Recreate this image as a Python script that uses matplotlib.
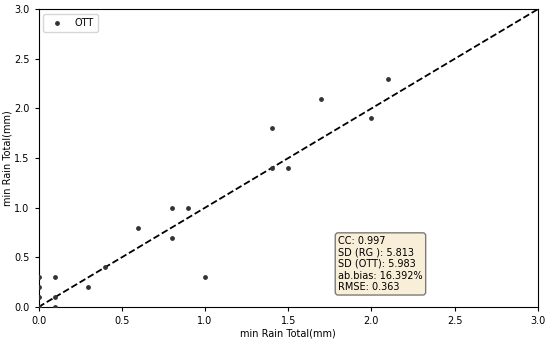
import matplotlib
matplotlib.use("Agg")
import matplotlib.pyplot as plt
import numpy as np

# rain gauge (x) vs OTT (y), 1-min totals
rg = [0.0, 0.0, 0.0, 0.0, 0.1, 0.1, 0.1, 0.3, 0.4, 0.6, 0.8, 0.8, 0.9, 1.0,
      1.4, 1.4, 1.5, 1.7, 2.0, 2.1]
ott = [0.3, 0.2, 0.1, 0.0, 0.3, 0.1, 0.0, 0.2, 0.4, 0.8, 1.0, 0.7, 1.0, 0.3,
       1.8, 1.4, 1.4, 2.1, 1.9, 2.3]

stats = "CC: 0.997\nSD (RG ): 5.813\nSD (OTT): 5.983\nab.bias: 16.392%\nRMSE: 0.363"

fig, ax = plt.subplots(figsize=(5.5, 3.4), dpi=100)
fig.subplots_adjust(left=0.07, right=0.978, top=0.973, bottom=0.097)

ax.scatter(rg, ott, s=6, color="#333333", label="OTT", zorder=3)
ax.plot([0, 3], [0, 3], "k--", lw=1.3)

ax.set_xlim(0, 3)
ax.set_ylim(0, 3)
ax.set_xlabel("min Rain Total(mm)", fontsize=7, labelpad=2)
ax.set_ylabel("min Rain Total(mm)", fontsize=7, labelpad=1)
ax.tick_params(labelsize=7, length=3)
ax.legend(loc="upper left", fontsize=7, markerscale=1.0)

ax.text(0.6, 0.05, stats, transform=ax.transAxes, fontsize=7,
        va="bottom", ha="left",
        bbox=dict(boxstyle="round", facecolor="wheat", alpha=0.5))

plt.savefig("out.png")
